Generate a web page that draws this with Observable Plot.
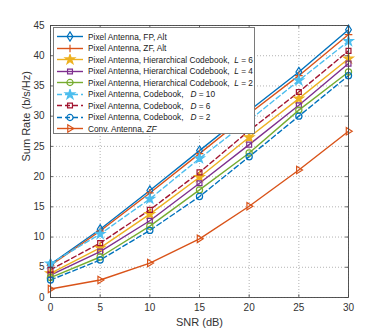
<!DOCTYPE html>
<html><head><meta charset="utf-8">
<script src="https://cdn.jsdelivr.net/npm/d3@7"></script>
<script src="https://cdn.jsdelivr.net/npm/@observablehq/plot@0.6"></script>
<style>
body{margin:0;background:#fff;font-family:"Liberation Sans",Arial,sans-serif;}
#wrap{position:relative;width:385px;height:334px;}
#legend{position:absolute;left:53px;top:27px;width:202px;height:107px;background:#fff;border:1px solid #7a7a7a;box-sizing:border-box;padding-top:3px;}
.row{height:11.5px;display:flex;align-items:center;font-size:8.3px;color:#1a1a1a;white-space:nowrap;}
.row svg{flex:none;margin-left:2px;margin-right:4px;}
</style>
</head><body>
<div id="wrap"><div id="chart"></div><div id="legend"></div></div>
<script>
const snr = [0,5,10,15,20,25,30];
const fpAlt  = [5.5,11.3,17.7,24.3,30.9,37.3,44.3];
const zfAlt  = [5.3,11.0,17.3,23.8,30.4,36.7,43.5];
const hierL6 = [4.0,8.2,13.8,19.9,26.5,32.9,39.5];
const hierL4 = [3.7,7.6,12.7,18.9,25.3,31.8,38.7];
const hierL2 = [3.3,6.7,11.8,17.8,23.9,31.0,37.3];
const cbD10  = [5.6,10.5,16.3,23.0,29.3,35.9,42.4];
const cbD6   = [4.6,9.0,14.5,20.7,27.6,34.0,40.8];
const cbD2   = [2.9,6.2,11.1,16.7,23.3,30.0,36.7];
const convZF = [1.4,2.9,5.7,9.7,15.1,21.1,27.5];
const xTicks = [0,5,10,15,20,25,30];
const yTicks = [0,5,10,15,20,25,30,35,40,45];
const xLabel = "SNR (dB)";
const yLabel = "Sum Rate (b/s/Hz)";

const triRight = {draw(ctx, size){const r=Math.sqrt(size/3)*1.1; ctx.moveTo(r,0); ctx.lineTo(-r*0.6,-r); ctx.lineTo(-r*0.6,r); ctx.closePath();}};
const plusSym = {draw(ctx,size){const r=Math.sqrt(size)*0.7; ctx.moveTo(-r,0);ctx.lineTo(r,0);ctx.moveTo(0,-r);ctx.lineTo(0,r);}};
const diamondSym = {draw(ctx,size){const r=Math.sqrt(size)*0.7; ctx.moveTo(0,-r*1.2);ctx.lineTo(r*0.75,0);ctx.lineTo(0,r*1.2);ctx.lineTo(-r*0.75,0);ctx.closePath();}};

const series = [
  {label:'Pixel Antenna, FP, Alt', y:fpAlt, color:"#0072BD", dash:null, sym:diamondSym, fill:"none", size:30},
  {label:'Pixel Antenna, ZF, Alt', y:zfAlt, color:"#D95319", dash:null, sym:plusSym, fill:"none", size:30},
  {label:'Pixel Antenna, Hierarchical Codebook,&nbsp; <i>L</i> = 6', y:hierL6, color:"#EDB120", dash:null, sym:d3.symbolStar, fill:"#EDB120", size:28},
  {label:'Pixel Antenna, Hierarchical Codebook,&nbsp; <i>L</i> = 4', y:hierL4, color:"#7E2F8E", dash:null, sym:d3.symbolSquare, fill:"none", size:24},
  {label:'Pixel Antenna, Hierarchical Codebook,&nbsp; <i>L</i> = 2', y:hierL2, color:"#77AC30", dash:null, sym:d3.symbolCircle, fill:"none", size:30},
  {label:'Pixel Antenna, Codebook,&nbsp;&nbsp; <i>D</i> = 10', y:cbD10, color:"#4DBEEE", dash:"5,3", sym:d3.symbolStar, fill:"#4DBEEE", size:28},
  {label:'Pixel Antenna, Codebook,&nbsp;&nbsp; <i>D</i> = 6', y:cbD6, color:"#A2142F", dash:"5,3", sym:d3.symbolSquare, fill:"none", size:24},
  {label:'Pixel Antenna, Codebook,&nbsp;&nbsp; <i>D</i> = 2', y:cbD2, color:"#0072BD", dash:"5,3", sym:d3.symbolCircle, fill:"none", size:30},
  {label:'Conv. Antenna, <i>ZF</i>', y:convZF, color:"#D95319", dash:null, sym:triRight, fill:"none", size:34},
];

const marks = [
  Plot.gridX(xTicks, {stroke:"#888", strokeOpacity:0.8, strokeDasharray:"1,2", strokeWidth:0.8}),
  Plot.gridY(yTicks, {stroke:"#888", strokeOpacity:0.8, strokeDasharray:"1,2", strokeWidth:0.8}),
];
for (const s of series) {
  const data = snr.map((x,i)=>({x, y:s.y[i]}));
  marks.push(Plot.line(data, {x:"x", y:"y", stroke:s.color, strokeWidth:1.4, strokeDasharray:s.dash}));
}
for (const s of series) {
  const data = snr.map((x,i)=>({x, y:s.y[i]}));
  marks.push(Plot.dot(data, {x:"x", y:"y", stroke:s.color, fill:s.fill, symbol:s.sym, r:Math.sqrt(s.size/Math.PI), strokeWidth:1.2}));
}
marks.push(
  Plot.axisX(xTicks, {tickSize:0, tickPadding:6, fontSize:10, color:"#333", label:null}),
  Plot.axisY(yTicks, {tickSize:0, tickPadding:6, fontSize:10, color:"#333", label:null}),
  Plot.text([xLabel], {frameAnchor:"bottom", dy:28, fontSize:11, fill:"#333"}),
  Plot.text([yLabel], {frameAnchor:"left", dx:-24, rotate:-90, fontSize:11, fill:"#333"}),
  Plot.ruleY(yTicks, {y:d=>d, x1:0, x2:0.3, stroke:"#444", strokeWidth:0.8}),
  Plot.ruleY(yTicks, {y:d=>d, x1:29.7, x2:30, stroke:"#444", strokeWidth:0.8}),
  Plot.ruleX(xTicks, {x:d=>d, y1:0, y2:0.45, stroke:"#444", strokeWidth:0.8}),
  Plot.ruleX(xTicks, {x:d=>d, y1:44.55, y2:45, stroke:"#444", strokeWidth:0.8}),
  Plot.frame({stroke:"#444", strokeWidth:0.9})
);

const chart = Plot.plot({
  width:385, height:334,
  marginLeft:50, marginRight:37, marginTop:25, marginBottom:37,
  style:{fontFamily:"'Liberation Sans', Arial, sans-serif", fontSize:"10px", background:"#fff", overflow:"visible"},
  x:{domain:[0,30]},
  y:{domain:[0,45]},
  marks
});
document.getElementById("chart").appendChild(chart);

// legend
const leg = d3.select("#legend");
for (const s of series) {
  const row = leg.append("div").attr("class","row");
  const svg = row.append("svg").attr("width",28).attr("height",11);
  svg.append("line").attr("x1",1).attr("x2",27).attr("y1",5.5).attr("y2",5.5)
    .attr("stroke",s.color).attr("stroke-width",1.4).attr("stroke-dasharray",s.dash);
  svg.append("path").attr("transform","translate(14,5.5)")
    .attr("d", d3.symbol(s.sym, s.size)())
    .attr("stroke",s.color).attr("fill",s.fill).attr("stroke-width",1.2);
  row.append("span").html(s.label);
}
</script>
</body></html>
